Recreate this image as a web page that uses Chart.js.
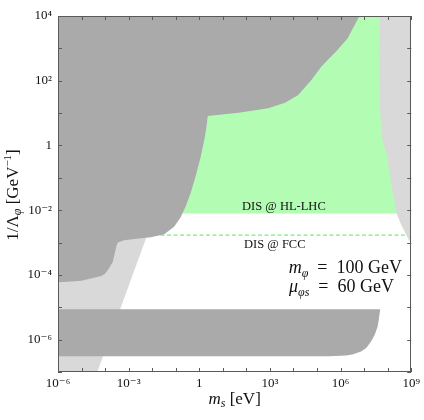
<!DOCTYPE html>
<html>
<head>
<meta charset="utf-8">
<script src="https://cdn.jsdelivr.net/npm/chart.js@4.4.1/dist/chart.umd.min.js"></script>
<style>
  html, body { margin: 0; padding: 0; background: #fff; }
  canvas { display: block; }
</style>
</head>
<body>
<canvas id="chartLimits" width="424" height="420"></canvas>
<script>
// all values are log10: x = log10(m_s / eV), y = log10(1/Lambda_phi / GeV^-1)

// upper dark grey exclusion
const darkTopX = [-6, 6.8, 6.3, 5.81, 5.5, 5.18, 4.76, 4.2, 3.64, 2.93, 1.67, 0.36, 0.3, 0.22, 0.06, -0.16, -0.37, -0.58, -0.79, -1.07, -1.49, -2.05, -2.47, -3.2, -3.46, -3.53, -3.67, -3.88, -4.02, -4.16, -5.0, -5.57, -6];
const darkTopY = [4, 4, 3.31, 2.9, 2.68, 2.43, 2.02, 1.56, 1.32, 1.15, 1.01, 0.91, 0.55, 0.2, -0.35, -0.97, -1.48, -1.89, -2.22, -2.51, -2.74, -2.84, -2.87, -2.93, -3.0, -3.13, -3.59, -3.85, -3.97, -4.03, -4.18, -4.21, -4.23];

// lower dark grey band
const bandX = [-6, 7.68, 7.62, 7.57, 7.45, 7.29, 7.1, 6.87, 6.5, 6.23, 5.5, -6];
const bandY = [-5.06, -5.06, -5.4, -5.6, -5.85, -6.06, -6.25, -6.37, -6.46, -6.49, -6.51, -6.51];

// light grey, right side
const greyRightX = [7.68, 7.64, 7.67, 7.78, 7.99, 8.03, 8.2, 8.38, 8.55, 8.76, 8.9, 9, 9];
const greyRightY = [4, 2.95, 1.1, 0.17, -0.35, -0.66, -1.38, -2.1, -2.41, -2.72, -2.92, -3.0, 4];

// light grey, lower left wedge
const greyLeftX = [-6, -4.33, -2.2, -6];
const greyLeftY = [-7, -7, -2.74, -2.74];

// DIS @ HL-LHC reach (green) and DIS @ FCC reach (dashed)
const hllhcX = [-1, 8.6, 8.6, -1];
const hllhcY = [-2.1, -2.1, 4, 4];
const fccX = [-2.2, 9];
const fccY = [-2.77, -2.77];

// ticks
const xTickExp = [-6, -5, -4, -3, -2, -1, 0, 1, 2, 3, 4, 5, 6, 7, 8, 9];
const yTickExp = [-7, -6, -5, -4, -3, -2, -1, 0, 1, 2, 3, 4];
const xLabelExp = [-6, -3, 0, 3, 6, 9];
const yLabelExp = [-6, -4, -2, 0, 2, 4];

const serif = "'Liberation Serif', 'DejaVu Serif', serif";
const supMap = {'-': '\u207B', '0': '\u2070', '1': '\u00B9', '2': '\u00B2', '3': '\u00B3', '4': '\u2074', '5': '\u2075', '6': '\u2076', '7': '\u2077', '8': '\u2078', '9': '\u2079'};
const expLabel = e => e === 0 ? '1' : '10' + String(e).split('').map(c => supMap[c]).join('');

function pts(xs, ys) {
  return xs.map((x, i) => ({x: Math.pow(10, x), y: Math.pow(10, ys[i])}));
}

function region(xs, ys, color) {
  return {
    data: pts(xs, ys),
    showLine: true,
    fill: 'shape',
    backgroundColor: color,
    borderColor: color,
    borderWidth: 0,
    pointRadius: 0,
    pointHoverRadius: 0
  };
}

// draw a run of text pieces: [text, size, italic, dy]
function rich(ctx, parts, x, y, align) {
  const fontOf = p => (p[2] ? 'italic ' : '') + p[1] + 'px ' + serif;
  let w = 0;
  parts.forEach(p => { ctx.font = fontOf(p); w += ctx.measureText(p[0]).width; });
  let cx = align === 'right' ? x - w : align === 'center' ? x - w / 2 : x;
  parts.forEach(p => {
    ctx.font = fontOf(p);
    ctx.fillText(p[0], cx, y + (p[3] || 0));
    cx += ctx.measureText(p[0]).width;
  });
}

const frameTicks = {
  id: 'frameTicks',
  afterDatasetsDraw(chart) {
    const {ctx, chartArea: a, scales: {x, y}} = chart;
    ctx.save();
    ctx.strokeStyle = '#5a5a5a';
    ctx.lineWidth = 1;
    ctx.beginPath();
    xTickExp.forEach(e => {
      const px = Math.round(x.getPixelForValue(Math.pow(10, e))) + 0.5;
      ctx.moveTo(px, a.bottom); ctx.lineTo(px, a.bottom - 4);
      ctx.moveTo(px, a.top); ctx.lineTo(px, a.top + 4);
    });
    yTickExp.forEach(e => {
      const py = Math.round(y.getPixelForValue(Math.pow(10, e))) + 0.5;
      ctx.moveTo(a.left, py); ctx.lineTo(a.left + 4, py);
      ctx.moveTo(a.right, py); ctx.lineTo(a.right - 4, py);
    });
    ctx.stroke();
    ctx.strokeRect(Math.round(a.left) + 0.5, Math.round(a.top) + 0.5, Math.round(a.width) - 1, Math.round(a.height) - 1);
    ctx.restore();
  },
  afterDraw(chart) {
    const {ctx, chartArea: a} = chart;
    ctx.save();
    ctx.fillStyle = '#111';
    ctx.textBaseline = 'alphabetic';
    ctx.textAlign = 'left';

    // x title
    rich(ctx, [['m', 17, true], ['s', 12, true, 3], [' [eV]', 17, false]], (a.left + a.right) / 2, 404, 'center');

    // y title, rotated
    ctx.save();
    ctx.translate(18, 195);
    ctx.rotate(-Math.PI / 2);
    rich(ctx, [['1/\u039B', 17, false], ['\u03C6', 12, true, 3], [' [GeV', 17, false], ['\u22121', 11, false, -7], [']', 17, false]], 0, 0, 'center');
    ctx.restore();

    // region labels
    rich(ctx, [['DIS @ HL-LHC', 12.5, false]], 242, 210, 'left');
    rich(ctx, [['DIS @ FCC', 12.5, false]], 244, 248, 'left');

    // benchmark
    rich(ctx, [['m', 18, true], ['\u03C6', 12, true, 4], ['\u2002=\u2002100 GeV', 18, false]], 402, 273, 'right');
    rich(ctx, [['\u03BC', 18, true], ['\u03C6s', 12, true, 4], ['\u2002=\u200260 GeV', 18, false]], 394, 292, 'right');
    ctx.restore();
  }
};

new Chart(document.getElementById('chartLimits'), {
  type: 'scatter',
  data: {
    datasets: [
      region(darkTopX, darkTopY, '#aaaaaa'),
      region(bandX, bandY, '#aaaaaa'),
      region(greyRightX, greyRightY, '#d9d9d9'),
      {
        data: pts(fccX, fccY),
        showLine: true,
        fill: false,
        borderColor: 'rgb(90, 232, 90)',
        borderWidth: 1,
        borderDash: [4, 2.5],
        pointRadius: 0,
        pointHoverRadius: 0
      },
      region(hllhcX, hllhcY, '#b3fcb3'),
      region(greyLeftX, greyLeftY, '#d9d9d9')
    ]
  },
  options: {
    responsive: false,
    animation: false,
    events: [],
    layout: {
      padding: {top: 16, right: 10, left: 0, bottom: 0}
    },
    scales: {
      x: {
        type: 'logarithmic',
        min: 1e-6,
        max: 1e9,
        afterBuildTicks: s => { s.ticks = xTickExp.map(e => ({value: Math.pow(10, e)})); },
        afterFit: s => { s.height = 48; },
        grid: {drawOnChartArea: false, drawTicks: false},
        border: {display: false},
        ticks: {
          autoSkip: false,
          maxRotation: 0,
          padding: 4,
          color: '#111',
          font: {family: serif, size: 13},
          callback: v => {
            const e = Math.round(Math.log10(v));
            return xLabelExp.includes(e) ? expLabel(e) : '';
          }
        }
      },
      y: {
        type: 'logarithmic',
        min: 1e-7,
        max: 1e4,
        afterBuildTicks: s => { s.ticks = yTickExp.map(e => ({value: Math.pow(10, e)})); },
        afterFit: s => { s.width = 58; },
        grid: {drawOnChartArea: false, drawTicks: false},
        border: {display: false},
        ticks: {
          autoSkip: false,
          padding: 6,
          color: '#111',
          font: {family: serif, size: 13},
          callback: v => {
            const e = Math.round(Math.log10(v));
            return yLabelExp.includes(e) ? expLabel(e) : '';
          }
        }
      }
    },
    plugins: {
      legend: {display: false},
      tooltip: {enabled: false}
    }
  },
  plugins: [frameTicks]
});
</script>
</body>
</html>
